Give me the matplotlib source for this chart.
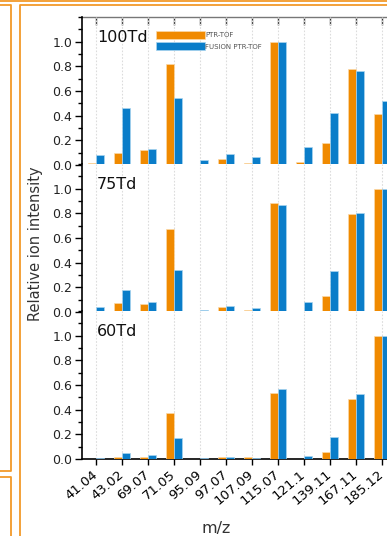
import numpy as np
import matplotlib.pyplot as plt
from matplotlib.lines import Line2D
from matplotlib.ticker import MultipleLocator, FixedLocator

ORANGE = "#F08A00"
BLUE = "#0A7DC9"
FRAME = "#F29A2A"

mz = ["41.04", "43.02", "69.07", "71.05", "95.09", "97.07",
      "107.09", "115.07", "121.1", "139.11", "167.11", "185.12"]

ptr_100 = [0.015, 0.10, 0.12, 0.82, 0.005, 0.05, 0.02, 1.0, 0.027, 0.18, 0.78, 0.41]
fus_100 = [0.08, 0.46, 0.13, 0.54, 0.04, 0.087, 0.065, 1.0, 0.15, 0.42, 0.765, 0.52]
ptr_75 = [0.0, 0.075, 0.065, 0.67, 0.0, 0.038, 0.019, 0.88, 0.003, 0.13, 0.795, 1.0]
fus_75 = [0.043, 0.175, 0.08, 0.34, 0.019, 0.048, 0.035, 0.87, 0.083, 0.33, 0.80, 1.0]
ptr_60 = [0.0, 0.02, 0.014, 0.377, 0.0, 0.013, 0.013, 0.534, 0.0, 0.057, 0.49, 1.0]
fus_60 = [0.01, 0.046, 0.035, 0.168, 0.005, 0.019, 0.005, 0.57, 0.022, 0.18, 0.53, 1.0]

panels = [("100Td", ptr_100, fus_100),
          ("75Td", ptr_75, fus_75),
          ("60Td", ptr_60, fus_60)]

W, H = 387, 536
fig = plt.figure(figsize=(W / 100, H / 100), dpi=100)
plt.rcParams["font.family"] = ["DejaVu Sans"]

x = np.arange(len(mz))
bw = 0.31

# panel geometry in pixels: left spine, right edge (runs off the page), top of each panel
left_px, right_px = 82, 400
tops = [17, 164, 311]
height_px = 148

axes = []
for k, (name, ptr, fus) in enumerate(panels):
    top = tops[k]
    ax = fig.add_axes([left_px / W, (H - top - height_px) / H,
                       (right_px - left_px) / W, height_px / H])
    axes.append(ax)
    ax.bar(x - bw / 2, ptr, bw, color=ORANGE, edgecolor="#fbd9a8", linewidth=0.5,
           label="PTR-TOF", zorder=3)
    ax.bar(x + bw / 2, fus, bw, color=BLUE, edgecolor="#a9d4ef", linewidth=0.5,
           label="FUSION PTR-TOF", zorder=3)
    ax.set_xlim(-(95.7 - left_px) / 26, (right_px - 95.7) / 26)
    ax.set_ylim(0, 1.2)
    ax.xaxis.set_major_locator(FixedLocator(x))
    ax.yaxis.set_major_locator(FixedLocator([0, 0.2, 0.4, 0.6, 0.8, 1.0]))
    ax.yaxis.set_minor_locator(MultipleLocator(0.1))
    ax.set_yticklabels(["0.0", "0.2", "0.4", "0.6", "0.8", "1.0"])
    ax.grid(axis="x", linestyle=(0, (1.5, 1.5)), color="#dcdcdc", linewidth=0.8, zorder=0)
    ax.tick_params(axis="y", which="major", direction="out", length=5, width=1,
                   pad=2, labelsize=9, labelcolor="#222222")
    ax.tick_params(axis="y", which="minor", direction="out", length=3, width=1)
    ax.tick_params(axis="x", which="major", direction="out", length=4, width=1,
                   labelbottom=False)
    for s in ("left", "bottom"):
        ax.spines[s].set_linewidth(1.2)
    ax.spines["right"].set_visible(False)
    ax.spines["top"].set_visible(False)
    ax.text(15 / (right_px - left_px), 0.915, name, transform=ax.transAxes,
            ha="left", va="top", fontsize=11.5, color="#111111")

# top edge of the stack: grey line with inward ticks
top_ax = axes[0].secondary_xaxis("top")
top_ax.xaxis.set_major_locator(FixedLocator(x))
top_ax.tick_params(axis="x", direction="in", length=6, width=1, labeltop=False,
                   color="#333333")
top_ax.spines["top"].set_color("#777777")
top_ax.spines["top"].set_linewidth(1.0)

ax_b = axes[-1]
ax_b.tick_params(axis="x", labelbottom=True, labelsize=9.5, pad=6)
ax_b.set_xticklabels(mz, rotation=40, ha="right", va="center", rotation_mode="anchor")

leg = axes[0].legend(loc="upper left", bbox_to_anchor=((156 - left_px) / (right_px - left_px), 0.905),
                     frameon=False, fontsize=5, handlelength=7.0, handleheight=1.45,
                     handletextpad=0.1, labelspacing=0.4, borderpad=0, borderaxespad=0)
for t in leg.get_texts():
    t.set_color("#555555")

fig.text(36 / W, 1 - 244 / H, "Relative ion intensity", rotation=90,
         ha="center", va="center", fontsize=10.5, color="#333333")
fig.text(216 / W, 1 - 529 / H, "m/z", ha="center", va="center",
         fontsize=11.5, color="#333333")

# orange frame lines around the figure panel
def px_line(xs, ys):
    fig.add_artist(Line2D([v / W for v in xs], [1 - v / H for v in ys],
                          color=FRAME, linewidth=1.3, transform=fig.transFigure))

px_line([0, W], [1, 1])
px_line([19.5, 19.5, W], [H + 5, 5, 5])
px_line([0, 11, 11, 0], [5, 5, 471, 471])
px_line([0, 11, 11], [477, 477, H + 5])

fig.savefig("out.png", dpi=100)
